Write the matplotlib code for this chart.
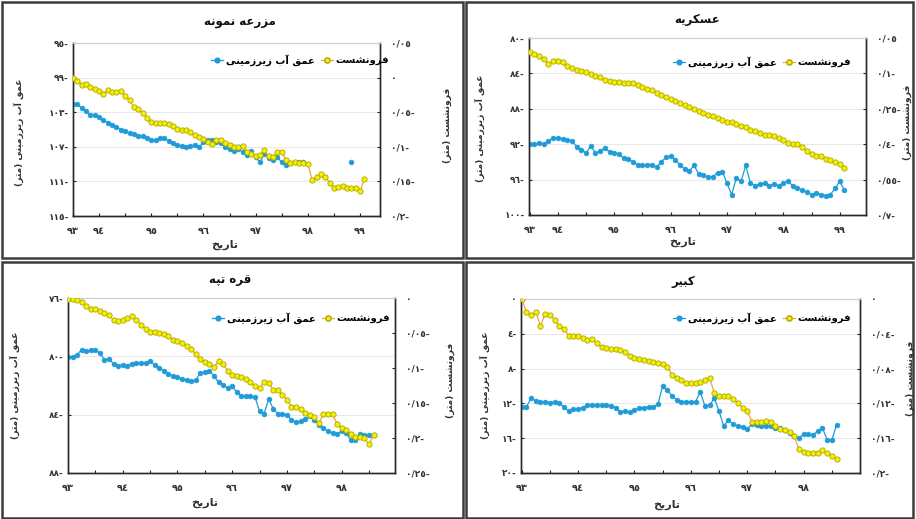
import numpy as np
import matplotlib
matplotlib.use('Agg')
import matplotlib.pyplot as plt
from matplotlib.lines import Line2D
from matplotlib.patches import Rectangle
from matplotlib.ticker import FixedLocator, FuncFormatter
from matplotlib import font_manager
from matplotlib.ft2font import FT2Font

nan = np.nan

# ---------------- data ----------------
titles = ['مزرعه نمونه', 'عسکریه', 'قره تپه', 'کبیر']
name_depth = 'عمق آب زیرزمینی'
name_sub = 'فرونشست'
ylab_left = 'عمق آب زیرزمینی (متر)'
ylab_right = 'فرونشست (متر)'
xlab = 'تاریخ'

# groundwater depth (m), monthly
depth_mazraeh = [-102.0, -102.1, -102.5, -102.9, -103.3, -103.3, -103.6, -103.9, -104.2, -104.5,
                 -104.7, -105.0, -105.2, -105.4, -105.5, -105.7, -105.8, -106.0, -106.2, -106.2,
                 -106.0, -106.0, -106.3, -106.6, -106.8, -106.9, -107.0, -106.9, -106.8, -107.0,
                 -106.5, -106.2, -106.2, -106.4, -106.6, -107.0, -107.3, -107.5, -107.2, -107.6,
                 -108.0, -107.5, -108.2, -108.8, -107.8, -108.3, -108.5, -108.2, -108.8, -109.1,
                 -108.9, -108.8, -108.7, -108.8, nan, nan, nan, nan, nan, nan,
                 nan, nan, nan, nan, -108.7]
sub_mazraeh = [0.000, -0.005, -0.010, -0.009, -0.013, -0.016, -0.019, -0.023, -0.018, -0.021,
               -0.021, -0.019, -0.026, -0.033, -0.043, -0.045, -0.051, -0.058, -0.064, -0.065,
               -0.066, -0.066, -0.067, -0.070, -0.074, -0.075, -0.076, -0.079, -0.083, -0.086,
               -0.089, -0.093, -0.096, -0.090, -0.090, -0.095, -0.098, -0.100, -0.101, -0.099,
               -0.107, -0.110, -0.113, -0.112, -0.105, -0.114, -0.115, -0.108, -0.108, -0.119,
               -0.123, -0.122, -0.123, -0.123, -0.125, -0.148, -0.143, -0.139, -0.143, -0.152,
               -0.159, -0.158, -0.157, -0.159, -0.159, -0.159, -0.164, -0.147]

depth_askarieh = [-92.0, -92.0, -91.9, -92.0, -91.6, -91.3, -91.3, -91.4, -91.5, -91.6,
                  -92.3, -92.6, -93.0, -92.2, -93.0, -92.8, -92.4, -92.9, -93.0, -93.1,
                  -93.6, -93.7, -94.0, -94.3, -94.4, -94.4, -94.3, -94.6, -94.0, -93.5,
                  -93.3, -93.8, -94.3, -94.8, -95.0, -94.4, -95.4, -95.5, -95.7, -95.7,
                  -95.2, -95.1, -96.4, -97.7, -95.8, -96.2, -94.4, -96.4, -96.7, -96.5,
                  -96.4, -96.7, -96.5, -96.7, -96.4, -96.2, -96.7, -97.0, -97.2, -97.4,
                  -97.7, -97.5, -97.7, -97.8, -97.7, -97.0, -96.2, -97.2]
sub_askarieh = [-0.009, -0.018, -0.028, -0.039, -0.059, -0.046, -0.046, -0.050, -0.067, -0.076,
                -0.084, -0.089, -0.096, -0.101, -0.110, -0.117, -0.127, -0.134, -0.137, -0.137,
                -0.140, -0.141, -0.141, -0.150, -0.158, -0.167, -0.172, -0.183, -0.193, -0.200,
                -0.209, -0.216, -0.226, -0.234, -0.243, -0.251, -0.258, -0.268, -0.275, -0.280,
                -0.288, -0.297, -0.304, -0.305, -0.314, -0.322, -0.329, -0.339, -0.346, -0.353,
                -0.360, -0.363, -0.367, -0.374, -0.383, -0.393, -0.401, -0.399, -0.410, -0.427,
                -0.441, -0.448, -0.452, -0.461, -0.469, -0.476, -0.483, -0.499]

depth_qarehtappeh = [-80.05, -80.07, -79.89, -79.54, -79.66, -79.59, -79.59, -79.77, -80.23, -80.18,
                     -80.53, -80.64, -80.57, -80.64, -80.50, -80.46, -80.46, -80.46, -80.34, -80.57,
                     -80.80, -80.98, -81.19, -81.37, -81.42, -81.55, -81.65, -81.71, -81.65, -81.14,
                     -81.07, -80.98, -81.33, -81.78, -81.94, -82.17, -82.06, -82.47, -82.70, -82.74,
                     -82.74, -82.79, -83.77, -83.93, -82.93, -83.59, -83.93, -83.93, -84.05, -84.34,
                     -84.53, -84.46, -84.30, -84.11, -84.34, -84.69, -84.91, -85.14, -85.26, -85.30,
                     -85.14, -85.26, -85.76, -85.76, -85.30, -85.42, -85.42, -85.42]
sub_qarehtappeh = [-0.001, -0.002, -0.003, -0.006, -0.012, -0.016, -0.016, -0.018, -0.021, -0.024,
                   -0.032, -0.033, -0.031, -0.029, -0.026, -0.031, -0.038, -0.044, -0.048, -0.049,
                   -0.050, -0.051, -0.054, -0.060, -0.062, -0.064, -0.068, -0.073, -0.080, -0.087,
                   -0.091, -0.094, -0.099, -0.090, -0.094, -0.104, -0.110, -0.112, -0.113, -0.115,
                   -0.120, -0.125, -0.129, -0.120, -0.121, -0.132, -0.132, -0.138, -0.145, -0.155,
                   -0.156, -0.158, -0.164, -0.167, -0.170, -0.179, -0.166, -0.166, -0.166, -0.180,
                   -0.185, -0.188, -0.194, -0.198, -0.198, -0.200, -0.209, -0.195]

depth_kabir = [-12.4, -12.4, -11.4, -11.7, -11.8, -11.8, -11.9, -11.8, -12.0, -12.4,
               -12.9, -12.7, -12.6, -12.5, -12.2, -12.2, -12.2, -12.2, -12.2, -12.3,
               -12.5, -13.0, -12.9, -13.0, -12.8, -12.5, -12.5, -12.4, -12.4, -12.1,
               -10.0, -10.5, -11.1, -11.6, -11.8, -11.8, -11.8, -11.8, -10.7, -12.3,
               -12.2, -11.4, -12.9, -14.6, -13.9, -14.4, -14.6, -14.7, -14.9, -14.4,
               -14.5, -14.6, -14.6, -14.6, -14.8, -14.8, -15.0, -15.4, -15.7, -16.0,
               -15.5, -15.5, -15.6, -15.2, -14.8, -16.2, -16.2, -14.5]
sub_kabir = [0.000, -0.015, -0.018, -0.015, -0.031, -0.017, -0.018, -0.024, -0.031, -0.034,
             -0.042, -0.042, -0.043, -0.045, -0.047, -0.046, -0.051, -0.055, -0.056, -0.057,
             -0.058, -0.059, -0.061, -0.066, -0.068, -0.069, -0.070, -0.071, -0.072, -0.074,
             -0.075, -0.078, -0.087, -0.091, -0.093, -0.096, -0.097, -0.097, -0.095, -0.093,
             -0.091, -0.108, -0.112, -0.112, -0.112, -0.115, -0.119, -0.125, -0.129, -0.141,
             -0.141, -0.141, -0.140, -0.141, -0.146, -0.149, -0.151, -0.153, -0.158, -0.172,
             -0.176, -0.177, -0.177, -0.177, -0.173, -0.177, -0.180, -0.184]

depth_series = [depth_mazraeh, depth_askarieh, depth_qarehtappeh, depth_kabir]
sub_series = [sub_mazraeh, sub_askarieh, sub_qarehtappeh, sub_kabir]

left_ticks = [[-115, -111, -107, -103, -99, -95],
              [-100, -96, -92, -88, -84, -80],
              [-88, -84, -80, -76],
              [-20, -16, -12, -8, -4, 0]]
right_ticks = [[-0.2, -0.15, -0.1, -0.05, 0, 0.05],
               [-0.7, -0.55, -0.4, -0.25, -0.1, 0.05],
               [-0.25, -0.2, -0.15, -0.1, -0.05, 0],
               [-0.2, -0.16, -0.12, -0.08, -0.04, 0]]
year_labels = [['93', '94', '95', '96', '97', '98', '99'],
               ['93', '94', '95', '96', '97', '98', '99'],
               ['93', '94', '95', '96', '97', '98'],
               ['93', '94', '95', '96', '97', '98']]
year_months = [[0, 6, 18, 30, 42, 54, 66],
               [0, 6, 18, 30, 42, 54, 66],
               [0, 12, 24, 36, 48, 60],
               [0, 12, 24, 36, 48, 60]]
month_ticks = list(range(0, 67, 6))

# ---------------- layout (pixels of the 916x519 figure) ----------------
W, H = 916, 519
ax_boxes = [(73, 43, 380, 216), (529, 38, 866, 215), (68, 298, 395, 473), (521, 299, 860, 473)]
xlims = [(0, 70.6), (-0.15, 71.6), (0, 71.7), (-0.15, 72.0)]
title_pos = [(240, 22), (697, 20), (230, 280), (683, 282)]
xlab_pos = [(225, 245), (683, 242), (205, 503), (667, 505)]
ylab_l_pos = [(19, 132), (480, 128), (15, 385), (485, 385)]
ylab_r_pos = [(447, 125), (907, 122), (450, 380), (910, 378)]
legend_pos = [(300, 60), (762, 62), (301, 318), (762, 318)]
frames = [(2, 2, 463, 258), (466, 2, 913, 258), (2, 262, 463, 518), (466, 262, 913, 518)]

BLUE = '#1f9bd8'
YELLOW = '#f2f200'
YEDGE = '#b0a400'
ORANGE = '#f0a050'
TXT = '#333333'

# ---------------- minimal Persian shaping for matplotlib ----------------
FORMS = {
    'ا': ('\uFE8D', '\uFE8E', None, None),
    'آ': ('\uFE81', '\uFE82', None, None),
    'ب': ('\uFE8F', '\uFE90', '\uFE91', '\uFE92'),
    'پ': ('\uFB56', '\uFB57', '\uFB58', '\uFB59'),
    'ت': ('\uFE95', '\uFE96', '\uFE97', '\uFE98'),
    'خ': ('\uFEA5', '\uFEA6', '\uFEA7', '\uFEA8'),
    'ر': ('\uFEAD', '\uFEAE', None, None),
    'ز': ('\uFEAF', '\uFEB0', None, None),
    'س': ('\uFEB1', '\uFEB2', '\uFEB3', '\uFEB4'),
    'ش': ('\uFEB5', '\uFEB6', '\uFEB7', '\uFEB8'),
    'ع': ('\uFEC9', '\uFECA', '\uFECB', '\uFECC'),
    'ف': ('\uFED1', '\uFED2', '\uFED3', '\uFED4'),
    'ق': ('\uFED5', '\uFED6', '\uFED7', '\uFED8'),
    'ک': ('\uFB8E', '\uFB8F', '\uFB90', '\uFB91'),
    'م': ('\uFEE1', '\uFEE2', '\uFEE3', '\uFEE4'),
    'ن': ('\uFEE5', '\uFEE6', '\uFEE7', '\uFEE8'),
    'ه': ('\uFEE9', '\uFEEA', '\uFEEB', '\uFEEC'),
    'و': ('\uFEED', '\uFEEE', None, None),
    'ی': ('\uFBFC', '\uFBFD', '\uFBFE', '\uFBFF'),
}


def charmap(weight):
    path = font_manager.findfont(font_manager.FontProperties(family='DejaVu Sans', weight=weight))
    return set(FT2Font(path).get_charmap().keys())


cm_bold = charmap('bold')
need = [g for v in FORMS.values() for g in v if g]
FA_WEIGHT = 'bold' if all(ord(g) in cm_bold for g in need) else 'normal'
CMAP = cm_bold if FA_WEIGHT == 'bold' else charmap('normal')


def fa(text):
    out = []
    for i, c in enumerate(text):
        if c not in FORMS:
            out.append(c)
            continue
        prev = text[i - 1] if i > 0 else ''
        nxt = text[i + 1] if i + 1 < len(text) else ''
        jp = prev in FORMS and FORMS[prev][2] is not None
        jn = FORMS[c][2] is not None and nxt in FORMS
        if jp and jn:
            g = FORMS[c][3]
        elif jp:
            g = FORMS[c][1]
        elif jn:
            g = FORMS[c][2]
        else:
            g = FORMS[c][0]
        out.append(g if ord(g) in CMAP else c)
    return ''.join(out)[::-1].translate(str.maketrans('()', ')('))


DIG = str.maketrans('0123456789', '٠١٢٣٤٥٦٧٨٩')


def fa_num(v, pos=None):
    if abs(v) < 1e-9:
        return '٠'
    s = ('%g' % abs(v)).replace('.', '/').translate(DIG)
    return s + '-' if v < 0 else s


# ---------------- figure ----------------
plt.rcParams['font.family'] = ['DejaVu Sans']
fig = plt.figure(figsize=(W / 100, H / 100), dpi=100)
fig.patch.set_facecolor('white')

for k in range(4):
    x0, y0, x1, y1 = ax_boxes[k]
    ax = fig.add_axes([x0 / W, 1 - y1 / H, (x1 - x0) / W, (y1 - y0) / H])
    ax2 = ax.twinx()

    d = depth_series[k]
    s = sub_series[k]
    ax.plot(np.arange(len(d)), d, color=BLUE, lw=0.9, marker='o', ms=3.4,
            mfc=BLUE, mec=BLUE, mew=0.5, zorder=3)
    ax2.plot(np.arange(len(s)), s, color=ORANGE, lw=0.9, marker='o', ms=3.8,
             mfc=YELLOW, mec=YEDGE, mew=0.6, zorder=3)

    lt = left_ticks[k]
    rt = right_ticks[k]
    ax.set_ylim(lt[0], lt[-1])
    ax2.set_ylim(rt[0], rt[-1])
    ax.set_xlim(*xlims[k])
    ax.yaxis.set_major_locator(FixedLocator(lt))
    ax2.yaxis.set_major_locator(FixedLocator(rt))
    ax.yaxis.set_major_formatter(FuncFormatter(fa_num))
    ax2.yaxis.set_major_formatter(FuncFormatter(fa_num))

    ax.xaxis.set_major_locator(FixedLocator(month_ticks))
    lab = {m: y.translate(DIG) for m, y in zip(year_months[k], year_labels[k])}
    ax.set_xticklabels([lab.get(m, '') for m in month_ticks])

    ax.grid(axis='y', color='#e4e4e4', lw=0.6)
    ax.set_axisbelow(True)
    for a in (ax, ax2):
        a.tick_params(direction='in', length=2.5, width=0.8, colors='#222222',
                      labelsize=6.5, labelcolor=TXT)
        for lbl in a.get_yticklabels() + a.get_xticklabels():
            lbl.set_fontweight('bold')
        a.spines['top'].set_color('#d0d0d0')
        a.spines['top'].set_linewidth(0.8)
        for sp in ('left', 'bottom', 'right'):
            a.spines[sp].set_color('#2a2a2a')
            a.spines[sp].set_linewidth(1.0)
    ax.tick_params(axis='y', pad=3)
    ax2.tick_params(axis='y', pad=8)
    ax.tick_params(axis='x', pad=7, labelsize=7)

    hd = Line2D([], [], color=BLUE, lw=0.9, marker='o', ms=3.4, mfc=BLUE, mec=BLUE)
    hs = Line2D([], [], color=ORANGE, lw=0.9, marker='o', ms=3.8, mfc=YELLOW, mec=YEDGE)
    lx, ly = legend_pos[k]
    ax2.legend([hd, hs], [fa(name_depth), fa(name_sub)], loc='center', ncol=2,
               bbox_to_anchor=(lx / W, 1 - ly / H), bbox_transform=fig.transFigure,
               frameon=False, handlelength=1.2, handletextpad=0.25, columnspacing=0.6,
               borderpad=0.2, prop={'size': 7.2, 'weight': FA_WEIGHT})

    tx, ty = title_pos[k]
    fig.text(tx / W, 1 - ty / H, fa(titles[k]), ha='center', va='center',
             fontsize=8.5, weight=FA_WEIGHT, color='#111111')
    tx, ty = xlab_pos[k]
    fig.text(tx / W, 1 - ty / H, fa(xlab), ha='center', va='center',
             fontsize=8, weight=FA_WEIGHT, color=TXT)
    tx, ty = ylab_l_pos[k]
    fig.text(tx / W, 1 - ty / H, fa(ylab_left), ha='center', va='center', rotation=90,
             fontsize=6.6, weight=FA_WEIGHT, color=TXT)
    tx, ty = ylab_r_pos[k]
    fig.text(tx / W, 1 - ty / H, fa(ylab_right), ha='center', va='center', rotation=90,
             fontsize=6.6, weight=FA_WEIGHT, color=TXT)

for (x0, y0, x1, y1) in frames:
    fig.add_artist(Rectangle((x0 / W, 1 - y1 / H), (x1 - x0) / W, (y1 - y0) / H,
                             transform=fig.transFigure, fill=False,
                             ec='#3c3c3c', lw=1.8))

fig.savefig('out.png', dpi=100)
